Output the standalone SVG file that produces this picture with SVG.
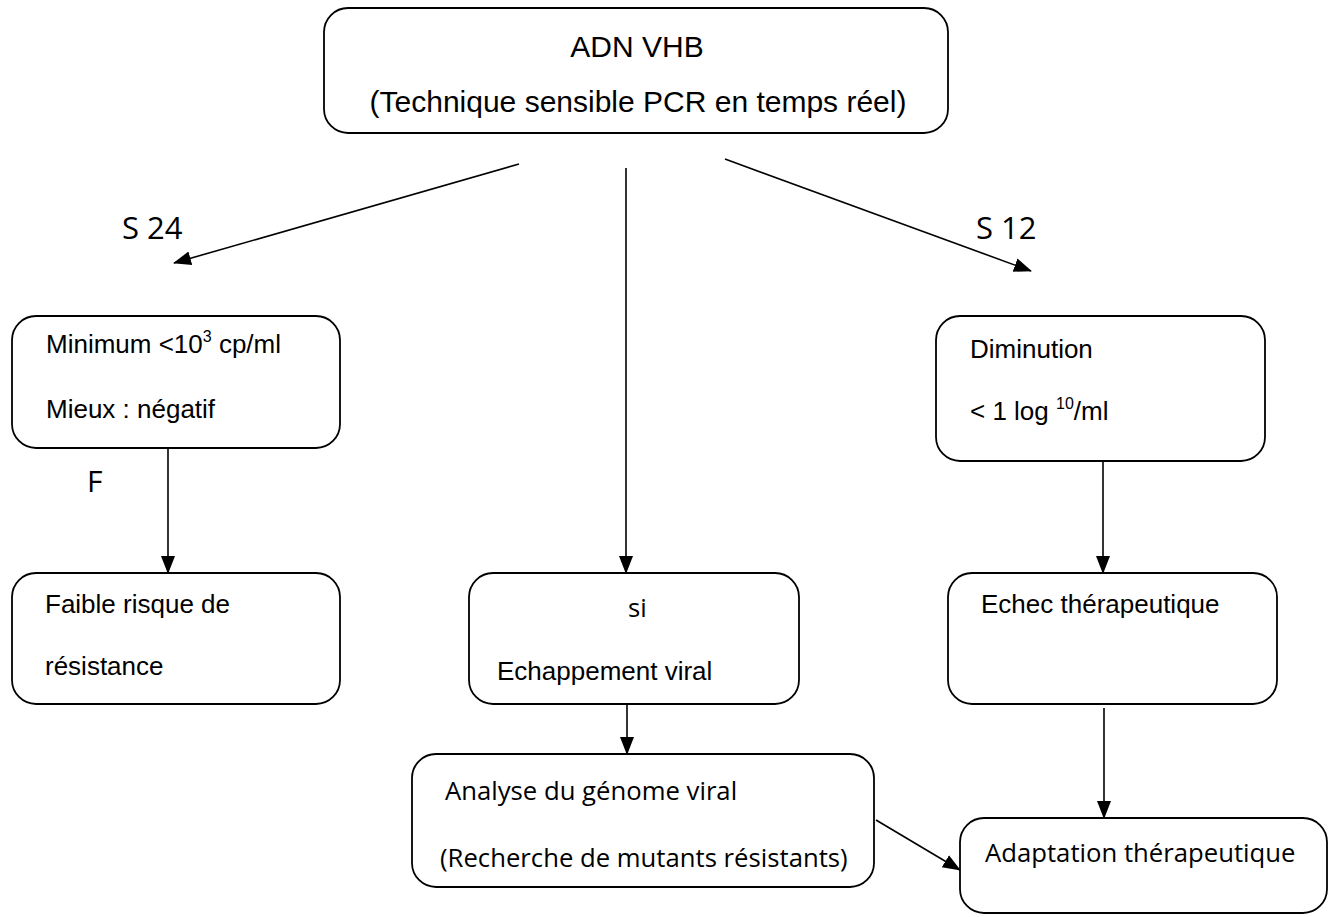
<svg xmlns="http://www.w3.org/2000/svg" width="1341" height="917" viewBox="0 0 1341 917">
<style>
.box{fill:#fff;stroke:#000;stroke-width:1.8}
.a{font-family:"Liberation Sans",Arial,sans-serif;font-size:26px;fill:#000}
.t{font-family:"Liberation Sans",Arial,sans-serif;font-size:30px;fill:#000}
.c{font-family:"Open Sans","Noto Sans",sans-serif;font-size:25.7px;fill:#000}
.s{font-family:"Open Sans","Noto Sans",sans-serif;font-size:31px;fill:#000}
.f{font-family:"Open Sans","Noto Sans",sans-serif;font-size:30px;fill:#000}
.ln{stroke:#000;stroke-width:1.6;fill:none;marker-end:url(#ah)}
</style>
<defs>
<marker id="ah" markerUnits="userSpaceOnUse" markerWidth="18" markerHeight="18" viewBox="0 0 18 18" refX="17" refY="9" orient="auto">
<path d="M0,2 L18,9 L0,16 Z" fill="#000"/>
</marker>
</defs>
<rect width="1341" height="917" fill="#fff"/>
<g id="connectors">
<line class="ln" x1="519" y1="164" x2="174" y2="263"/>
<line class="ln" x1="626" y1="168" x2="626" y2="573"/>
<line class="ln" x1="725" y1="159" x2="1031" y2="271"/>
<line class="ln" x1="168" y1="448" x2="168" y2="573"/>
<line class="ln" x1="1103" y1="461" x2="1103" y2="573"/>
<line class="ln" x1="627" y1="704" x2="627" y2="754"/>
<line class="ln" x1="1104" y1="708" x2="1104" y2="818"/>
<line class="ln" x1="876" y1="820" x2="960" y2="870"/>
</g>
<g id="labels">
<text class="s" x="122" y="239">S 24</text>
<text class="s" x="976" y="239">S 12</text>
<text class="f" x="87" y="492">F</text>
</g>
<g id="n-top">
<rect class="box" x="324" y="8" width="624" height="125" rx="24"/>
<text class="t" x="637" y="57" text-anchor="middle">ADN VHB</text>
<text class="t" x="638" y="112" text-anchor="middle">(Technique sensible PCR en temps réel)</text>
</g>
<g id="n-min">
<rect class="box" x="12" y="316" width="328" height="132" rx="24"/>
<text class="a" x="46" y="353">Minimum &lt;10<tspan font-size="16" dy="-11">3</tspan><tspan dy="11"> cp/ml</tspan></text>
<text class="a" x="46" y="418">Mieux : négatif</text>
</g>
<g id="n-dim">
<rect class="box" x="936" y="316" width="329" height="145" rx="24"/>
<text class="a" x="970" y="358">Diminution</text>
<text class="a" x="970" y="420">&lt; 1 log <tspan font-size="16" dy="-11">10</tspan><tspan dy="11">/ml</tspan></text>
</g>
<g id="n-faible">
<rect class="box" x="12" y="573" width="328" height="131" rx="24"/>
<text class="a" x="45" y="613">Faible risque de</text>
<text class="a" x="45" y="675">résistance</text>
</g>
<g id="n-si">
<rect class="box" x="469" y="573" width="330" height="131" rx="24"/>
<text class="c" x="628" y="617">si</text>
<text class="a" x="497" y="680">Echappement viral</text>
</g>
<g id="n-echec">
<rect class="box" x="948" y="573" width="329" height="131" rx="24"/>
<text class="a" x="981" y="613">Echec thérapeutique</text>
</g>
<g id="n-analyse">
<rect class="box" x="412" y="754" width="462" height="133" rx="24"/>
<text class="c" x="445" y="800">Analyse du génome viral</text>
<text class="c" x="440" y="867">(Recherche de mutants résistants)</text>
</g>
<g id="n-adapt">
<rect class="box" x="960" y="818" width="367" height="95" rx="24"/>
<text class="c" x="985" y="862">Adaptation thérapeutique</text>
</g>
</svg>
